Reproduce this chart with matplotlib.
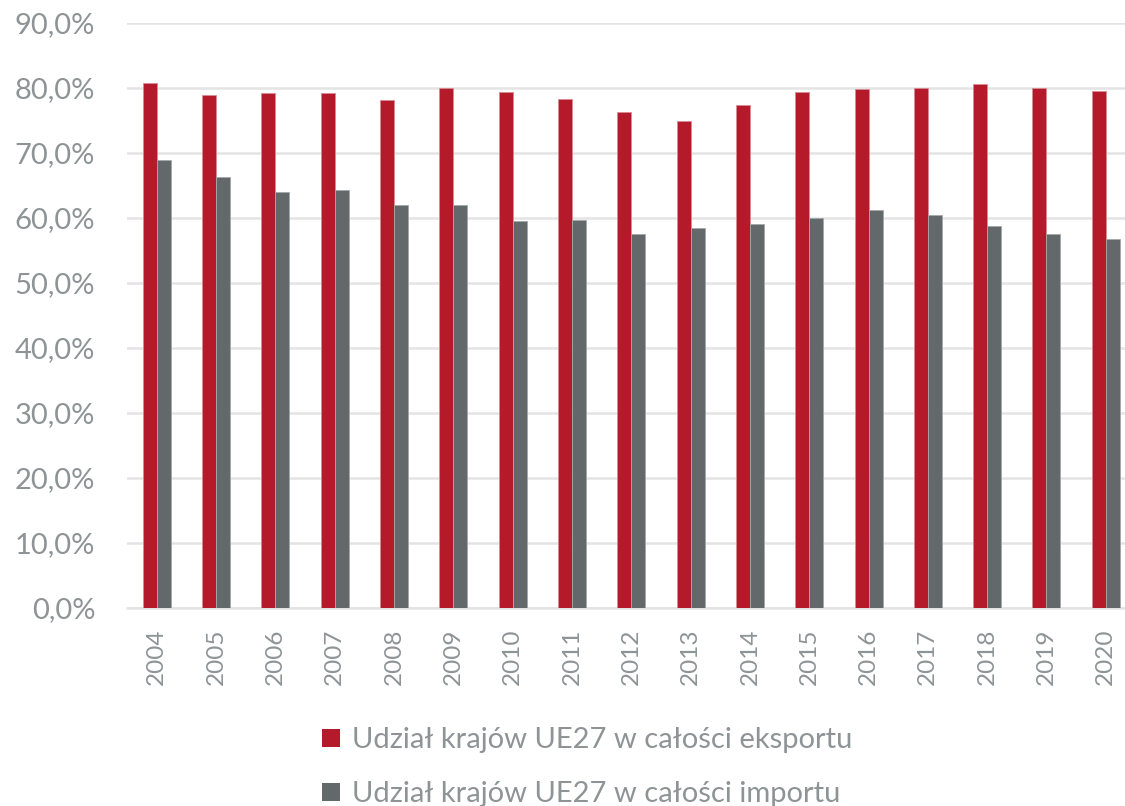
import matplotlib
matplotlib.use("Agg")
import matplotlib.pyplot as plt
import numpy as np
from matplotlib.patches import Patch

years = ["2004", "2005", "2006", "2007", "2008", "2009", "2010", "2011", "2012",
         "2013", "2014", "2015", "2016", "2017", "2018", "2019", "2020"]
export_share = [80.7, 78.9, 79.2, 79.2, 78.1, 79.9, 79.3, 78.2, 76.2,
                74.9, 77.4, 79.3, 79.8, 80.0, 80.6, 79.9, 79.5]
import_share = [68.9, 66.2, 64.0, 64.2, 61.9, 61.9, 59.5, 59.7, 57.5,
                58.4, 59.0, 60.0, 61.2, 60.4, 58.7, 57.5, 56.7]
yticks = [0, 10, 20, 30, 40, 50, 60, 70, 80, 90]
labels = ["Udział krajów UE27 w całości eksportu", "Udział krajów UE27 w całości importu"]

RED = "#B41A2A"
GRAY = "#63686A"
TXT = "#8E9496"
GRID = "#E4E4E4"

plt.rcParams['font.family'] = ['Lato', 'DejaVu Sans']

fig = plt.figure(figsize=(11.25, 8.06), dpi=100)
ax = fig.add_axes([0.113, 0.2457, 0.8963, 0.7261])

x = np.arange(len(years))
w = 0.236
ax.bar(x - w / 2, export_share, width=w, color=RED, edgecolor="#D98A92", linewidth=0.6, zorder=3)
ax.bar(x + w / 2, import_share, width=w, color=GRAY, edgecolor="#A4A8AA", linewidth=0.6, zorder=3)

ax.set_xlim(-0.5, len(years) - 0.5)
ax.set_ylim(0, 90)
ax.set_yticks(yticks)
ax.set_yticklabels([f"{v:.1f}%".replace(".", ",") for v in yticks], fontsize=21, color=TXT)
ax.set_xticks(x)
ax.set_xticklabels(years, rotation=90, fontsize=17.5, color=TXT)
ax.tick_params(axis='both', length=0)
ax.tick_params(axis='y', pad=23)
ax.tick_params(axis='x', pad=15)
ax.grid(axis='y', color=GRID, linewidth=1.8, zorder=0)
for s in ["top", "right", "left"]:
    ax.spines[s].set_visible(False)
ax.spines["bottom"].set_color(GRID)
ax.spines["bottom"].set_linewidth(1.8)

handles = [Patch(facecolor=RED), Patch(facecolor=GRAY)]
fig.legend(handles, labels, loc="center", bbox_to_anchor=(0.522, 0.048), frameon=False,
           fontsize=21, labelcolor=TXT, handlelength=0.6, handleheight=0.6,
           handletextpad=0.4, labelspacing=0.95)

fig.savefig("out.png", dpi=100)
